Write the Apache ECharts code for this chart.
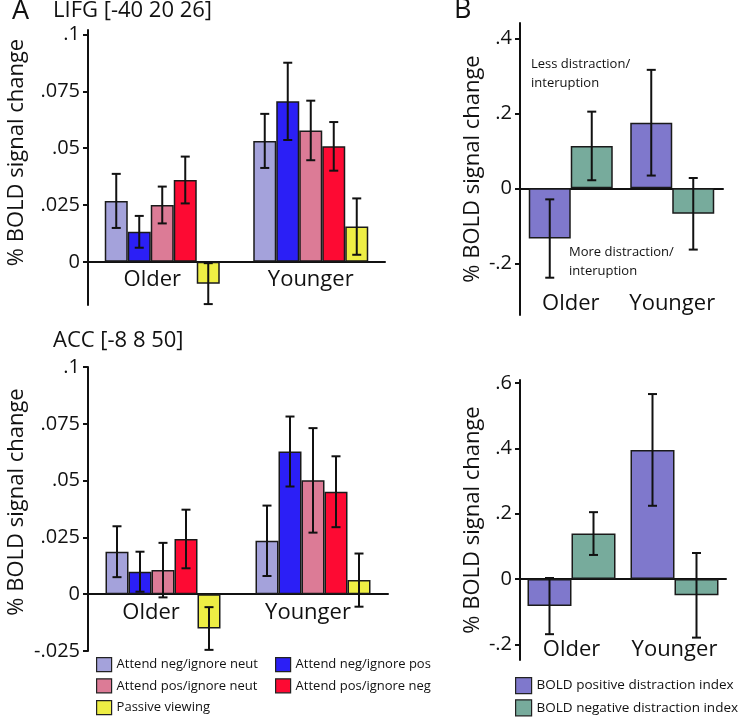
<!DOCTYPE html>
<html>
<head>
<meta charset="utf-8">
<script src="https://cdn.jsdelivr.net/npm/echarts@6/dist/echarts.min.js"></script>
<style>html,body{margin:0;padding:0;background:#fff;}#c{width:742px;height:719px;}</style>
</head>
<body>
<div id="c"></div>
<script>
// ---- categories and names ----
const groups = ['Older', 'Younger'];
const condNames = ['Attend neg/ignore neut', 'Attend neg/ignore pos', 'Attend pos/ignore neut', 'Attend pos/ignore neg', 'Passive viewing'];
const indexNames = ['BOLD positive distraction index', 'BOLD negative distraction index'];

// ---- Panel A top: LIFG [-40 20 26] (means, SE per group) ----
const lifgNegNeut = [0.0268, 0.0532];
const lifgNegPos = [0.0132, 0.0706];
const lifgPosNeut = [0.0250, 0.0578];
const lifgPosNeg = [0.0360, 0.0508];
const lifgPassive = [-0.0096, 0.0155];
const lifgNegNeutSE = [0.0119, 0.0119];
const lifgNegPosSE = [0.0070, 0.0170];
const lifgPosNeutSE = [0.0081, 0.0131];
const lifgPosNegSE = [0.0103, 0.0107];
const lifgPassiveSE = [0.0090, 0.0124];

// ---- Panel A bottom: ACC [-8 8 50] ----
const accNegNeut = [0.0187, 0.0235];
const accNegPos = [0.0099, 0.0628];
const accPosNeut = [0.0106, 0.0501];
const accPosNeg = [0.0243, 0.0451];
const accPassive = [-0.0151, 0.0062];
const accNegNeutSE = [0.0112, 0.0155];
const accNegPosSE = [0.0088, 0.0154];
const accPosNeutSE = [0.0120, 0.0230];
const accPosNegSE = [0.0129, 0.0156];
const accPassiveSE = [0.0094, 0.0117];

// ---- Panel B top ----
const bTopPos = [-0.134, 0.175];
const bTopNeg = [0.113, -0.068];
const bTopPosSE = [0.1045, 0.141];
const bTopNegSE = [0.0915, 0.0955];

// ---- Panel B bottom ----
const bBotPos = [-0.083, 0.395];
const bBotNeg = [0.139, -0.050];
const bBotPosSE = [0.086, 0.171];
const bBotNegSE = [0.0655, 0.1295];

// ---- tick labels ----
const ticksA1 = [0, 0.025, 0.05, 0.075, 0.1];
const ticksA2 = [-0.025, 0, 0.025, 0.05, 0.075, 0.1];
const ticksB1 = [-0.2, 0, 0.2, 0.4];
const ticksB2 = [-0.2, 0, 0.2, 0.4, 0.6];

// ---- styles ----
const condColors = ['#a4a2db', '#2b1ff6', '#dc7b96', '#fd0a33', '#eeee44'];
const indexColors = ['#7f78cc', '#77ab9c'];
const FONT = 'Open Sans';
const INK = '#111';

function fmt(v) {
  if (Math.abs(v) < 1e-9) return '0';
  const s = parseFloat(v.toFixed(4)).toString();
  return s.replace(/^(-?)0\./, '$1.');
}

function errRender(barW, idx, n) {
  return function (params, api) {
    const x = api.value(0);
    const lo = api.coord([x, api.value(1)]);
    const hi = api.coord([x, api.value(2)]);
    const cx = lo[0] + barW * (idx - (n - 1) / 2);
    const cap = 4.5;
    const st = { stroke: INK, lineWidth: 2 };
    return {
      type: 'group',
      children: [
        { type: 'line', shape: { x1: cx, y1: lo[1], x2: cx, y2: hi[1] }, style: st },
        { type: 'line', shape: { x1: cx - cap, y1: lo[1], x2: cx + cap, y2: lo[1] }, style: st },
        { type: 'line', shape: { x1: cx - cap, y1: hi[1], x2: cx + cap, y2: hi[1] }, style: st }
      ]
    };
  };
}

function errData(mean, se) {
  return mean.map((m, i) => [i, m - se[i], m + se[i]]);
}

const series = [];
function addPanel(xIdx, yIdx, means, ses, names, colors, barW) {
  const n = means.length;
  means.forEach((m, i) => {
    series.push({
      type: 'bar', name: names[i], xAxisIndex: xIdx, yAxisIndex: yIdx,
      data: m, barWidth: barW, barGap: '0%',
      itemStyle: { color: colors[i], borderColor: '#1a1a1a', borderWidth: 1.5 },
      emphasis: { disabled: true }, z: 2
    });
  });
  means.forEach((m, i) => {
    series.push({
      type: 'custom', xAxisIndex: xIdx, yAxisIndex: yIdx,
      data: errData(m, ses[i]), encode: { x: 0, y: [1, 2] },
      renderItem: errRender(barW, i, n), z: 5, silent: true
    });
  });
}

// x axes: 0 TL labels, 1 TL zero, 2 BL labels, 3 BL zero, 4 TR labels, 5 TR zero, 6 BR labels, 7 BR zero
addPanel(0, 0, [lifgNegNeut, lifgNegPos, lifgPosNeut, lifgPosNeg, lifgPassive],
  [lifgNegNeutSE, lifgNegPosSE, lifgPosNeutSE, lifgPosNegSE, lifgPassiveSE], condNames, condColors, 23);
addPanel(2, 1, [accNegNeut, accNegPos, accPosNeut, accPosNeg, accPassive],
  [accNegNeutSE, accNegPosSE, accPosNeutSE, accPosNegSE, accPassiveSE], condNames, condColors, 23);
addPanel(4, 2, [bTopPos, bTopNeg], [bTopPosSE, bTopNegSE], indexNames, indexColors, 42);
addPanel(6, 3, [bBotPos, bBotNeg], [bBotPosSE, bBotNegSE], indexNames, indexColors, 44);

function xLabels(grid, margin, inside, padO, padY) {
  return {
    gridIndex: grid, type: 'category', data: groups, position: 'bottom',
    axisLine: { show: false, onZero: false }, axisTick: { show: false },
    axisLabel: {
      inside: inside, margin: margin, interval: 0,
      formatter: v => v === 'Older' ? '{o|' + v + '}' : '{y|' + v + '}',
      rich: {
        o: { fontSize: 22, fontFamily: FONT, color: INK, padding: [0, padO, 0, 0] },
        y: { fontSize: 22, fontFamily: FONT, color: INK, padding: [0, padY, 0, 0] }
      }
    }
  };
}
function xZero(grid) {
  return {
    gridIndex: grid, type: 'category', data: groups, position: 'top',
    axisLine: { onZero: true, lineStyle: { color: INK, width: 2 } },
    axisTick: { show: false }, axisLabel: { show: false }
  };
}
function yA(grid, min, max, ticks, shiftUp, gap) {
  return {
    gridIndex: grid, type: 'value', min: min, max: max,
    axisLine: { show: true, onZero: false, lineStyle: { color: INK, width: 2 } },
    axisTick: { show: true, length: 5, customValues: ticks, lineStyle: { color: INK, width: 2 } },
    axisLabel: { customValues: ticks, formatter: fmt, fontSize: 20, fontFamily: FONT, color: INK, margin: 8 },
    splitLine: { show: false },
    name: '% BOLD signal change', nameLocation: 'middle', nameRotate: 90, nameGap: gap,
    nameTextStyle: { fontSize: 22, fontFamily: FONT, color: INK, padding: shiftUp > 0 ? [0, 0, 0, shiftUp * 2] : [0, -shiftUp * 2, 0, 0] }
  };
}

const option = {
  animation: false,
  backgroundColor: '#fff',
  textStyle: { fontFamily: FONT, color: INK },
  title: [
    { text: 'A', left: 12, top: -2, padding: 0, textStyle: { fontSize: 27, fontWeight: 'normal', fontFamily: FONT, color: INK } },
    { text: 'LIFG [-40 20 26]', left: 53, top: 0, padding: 0, textStyle: { fontSize: 22, fontWeight: 'normal', fontFamily: FONT, color: INK } },
    { text: 'ACC [-8 8 50]', left: 53, top: 330, padding: 0, textStyle: { fontSize: 22, fontWeight: 'normal', fontFamily: FONT, color: INK } },
    { text: 'B', left: 454, top: -3, padding: 0, textStyle: { fontSize: 27, fontWeight: 'normal', fontFamily: FONT, color: INK } }
  ],
  grid: [
    { left: 88, top: 30, width: 297, height: 275 },
    { left: 88, top: 367, width: 300, height: 284 },
    { left: 520, top: 23, width: 203, height: 292 },
    { left: 520, top: 380, width: 206, height: 280 }
  ],
  xAxis: [
    xLabels(0, -36, false, 20, 0), xZero(0),
    xLabels(1, -49, false, 24, 10), xZero(1),
    xLabels(2, 0, true, 0, 0), xZero(2),
    xLabels(3, -1, true, 0, 0), xZero(3)
  ],
  yAxis: [
    yA(0, -0.019, 0.102, ticksA1, 15, 60),
    yA(1, -0.025, 0.1, ticksA2, 7, 60),
    yA(2, -0.338, 0.441, ticksB1, 0, 36),
    yA(3, -0.248, 0.609, ticksB2, 0, 36)
  ],
  legend: [
    { data: [condNames[0], condNames[2]], orient: 'vertical', left: 96, top: 657, padding: 0, itemGap: 6, itemWidth: 15, itemHeight: 14, icon: 'rect',
      itemStyle: { borderColor: '#222', borderWidth: 1.2 }, textStyle: { fontSize: 13, fontFamily: FONT, color: INK }, selectedMode: false },
    { data: [condNames[1], condNames[3]], orient: 'vertical', left: 275, top: 657, padding: 0, itemGap: 6, itemWidth: 15, itemHeight: 14, icon: 'rect',
      itemStyle: { borderColor: '#222', borderWidth: 1.2 }, textStyle: { fontSize: 13, fontFamily: FONT, color: INK }, selectedMode: false },
    { data: [condNames[4]], orient: 'vertical', left: 96, top: 700, padding: 0, itemWidth: 15, itemHeight: 14, icon: 'rect',
      itemStyle: { borderColor: '#222', borderWidth: 1.2 }, textStyle: { fontSize: 13, fontFamily: FONT, color: INK }, selectedMode: false },
    { data: indexNames, orient: 'vertical', left: 515, top: 677, padding: 0, itemGap: 5, itemWidth: 16, itemHeight: 16, icon: 'rect',
      itemStyle: { borderColor: '#222', borderWidth: 1.2 }, textStyle: { fontSize: 13.5, fontFamily: FONT, color: INK }, selectedMode: false }
  ],
  graphic: [
    { type: 'text', left: 531, top: 55, style: { text: 'Less distraction/\ninteruption', fontSize: 13, fontFamily: FONT, fill: INK, lineHeight: 19 } },
    { type: 'text', left: 569, top: 243, style: { text: 'More distraction/\ninteruption', fontSize: 13, fontFamily: FONT, fill: INK, lineHeight: 19 } }
  ],
  series: series
};

const chart = echarts.init(document.getElementById('c'), null, { renderer: 'canvas' });
chart.setOption(option);
</script>
</body>
</html>
